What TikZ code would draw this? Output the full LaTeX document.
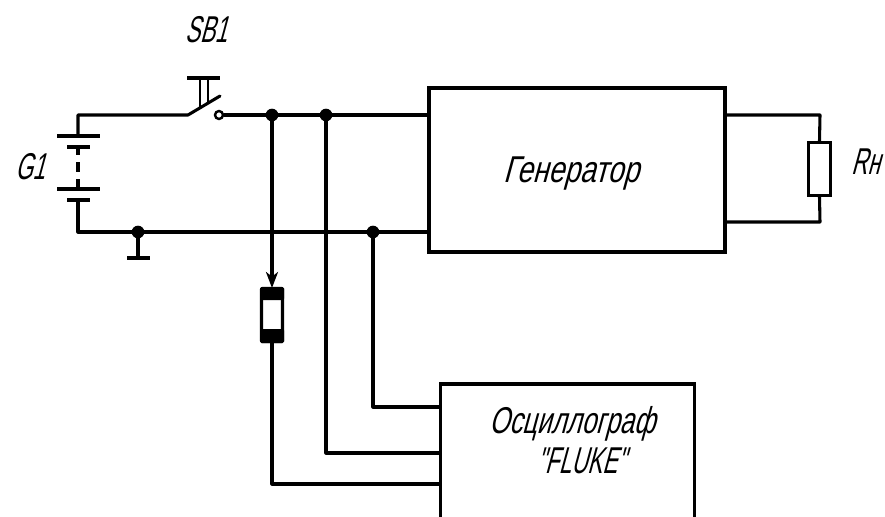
\documentclass[tikz,border=0pt]{standalone}
\usepackage{fontspec}
\newfontfamily\gostfont[FakeStretch=0.76,FakeSlant=0.27]{Liberation Sans}
\newfontfamily\gostmid[FakeStretch=0.69,FakeSlant=0.27]{Liberation Sans}
\newfontfamily\gostnarrow[FakeStretch=0.6,FakeSlant=0.27]{Liberation Sans}
\usetikzlibrary{arrows.meta}
\tikzset{
    wire/.style={line width=2.3pt,line cap=round,line join=round},
    plate/.style={line width=2.3pt},
    dotnode/.style={circle,fill=black,inner sep=0pt,minimum size=9.5pt},
    blockbox/.style={draw,line width=2.3pt,rectangle,inner sep=0pt,fill=white},
    label/.style={font=\gostfont\fontsize{28}{30}\selectfont,inner sep=0pt,anchor=base},
    midlabel/.style={font=\gostmid\fontsize{28}{30}\selectfont,inner sep=0pt,anchor=base},
    narrowlabel/.style={font=\gostnarrow\fontsize{28}{30}\selectfont,inner sep=0pt,anchor=base},
}
\begin{document}
\begin{tikzpicture}[x=0.75pt,y=-0.75pt]
    \useasboundingbox (0,0) rectangle (885,517);
    % blocks
    \node[blockbox,minimum width=222pt,minimum height=123pt] (gen) at (577,170) {};
    \node[blockbox,minimum width=191pt,minimum height=120pt] (osc) at (567.5,464) {};
    \node[blockbox,minimum width=17pt,minimum height=40pt] (rn) at (819.5,169) {};
    \node[blockbox,minimum width=15.75pt,minimum height=40pt,rounded corners=1pt] (fuse) at (272,315) {};
    \fill[rounded corners=1pt] (260,287) rectangle (284,300);
    \fill[rounded corners=1pt] (260,329) rectangle (284,343);
    % junctions
    \node[dotnode] (d1) at (272,115) {};
    \node[dotnode] (d2) at (326,115) {};
    \node[dotnode] (d3) at (373,232) {};
    \node[dotnode] (d4) at (138,232) {};
    \coordinate (c1) at (78,115);
    \coordinate (c2) at (78,232);
    \coordinate (bat1) at (78,136);
    \coordinate (bat2) at (78,147);
    \coordinate (bat3) at (78,189);
    \coordinate (bat4) at (78,200);
    \coordinate (sw1) at (188,115);
    \coordinate (sw2) at (220,96);
    \node[draw,circle,line width=1.8pt,fill=white,inner sep=0pt,minimum size=6pt] (sw3) at (219,115) {};
    \coordinate (gnd) at (138,258);
    % wires
    \draw[wire] (bat1) -- (c1) -- (sw1) -- (sw2);
    \draw[wire] (sw3) -- (d1) -- (d2) -- (gen.west |- d2);
    \draw[wire] (bat4) -- (c2) -- (d4) -- (d3) -- (gen.west |- d3);
    \draw[wire] (d4) -- (gnd);
    \draw[plate] (127,258) -- (150,258);
    % battery
    \draw[plate] (57,136) -- (100,136);
    \draw[plate] (67,147) -- (90,147);
    \draw[plate] (57,189) -- (100,189);
    \draw[plate] (67,200) -- (90,200);
    \draw[plate,dash pattern=on 6pt off 5.25pt on 7.5pt off 5.25pt on 7.5pt] (bat2) -- (bat3);
    % button
    \draw[plate] (187,78) -- (220,78);
    \draw[line width=1.8pt] (200,78) -- (200,108);
    \draw[line width=1.8pt] (208,78) -- (208,103);
    % load
    \draw[wire] (gen.east |- d2) -- (820,115) -- (rn.north);
    \draw[wire] (rn.south) -- (820,222) -- (gen.east |- 820,222);
    % oscilloscope leads
    \draw[wire,-{Stealth[length=12pt,width=9pt,inset=3.5pt]}] (d1) -- (fuse.north |- 0,288);
    \draw[wire] (272,343) -- (272,484) -- (osc.west |- 272,484);
    \draw[wire] (d2) -- (326,453) -- (osc.west |- 326,453);
    \draw[wire] (d3) -- (373,407) -- (osc.west |- 373,407);
    % labels
    \node[narrowlabel] (sb) at (206,43) {SB1};
    \node[narrowlabel] (g) at (30,179) {G1};
    \node[narrowlabel,anchor=base east] (rnlabel) at (880,174) {Rн};
    \node[label] (gentext) at (571,182) {Генератор};
    \node[midlabel] (osctext) at (572,433) {Осциллограф};
    \node[narrowlabel] (fluke) at (581,473) {"FLUKE"};
\end{tikzpicture}
\end{document}
